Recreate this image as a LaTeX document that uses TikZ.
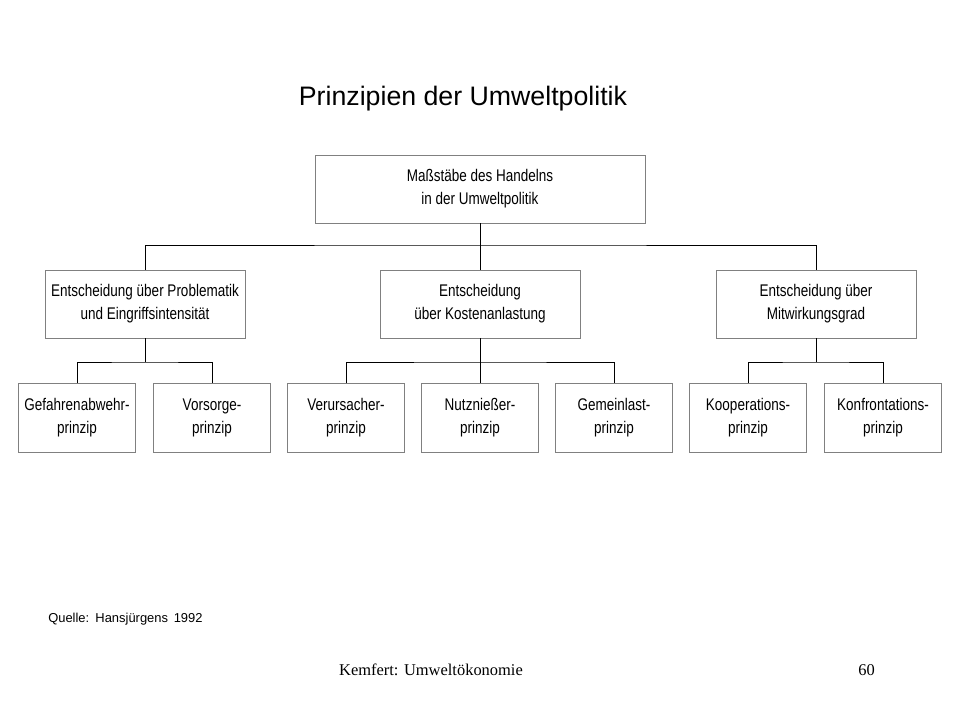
\documentclass[tikz,border=0pt]{standalone}
\usepackage{fontspec}
\setmainfont{Liberation Serif}
\setsansfont{Liberation Sans}
\newfontfamily\boxfont[FakeStretch=0.8]{Liberation Sans}
\usepackage{tikz}

\begin{document}
\begin{tikzpicture}[x=0.025cm, y=-0.025cm,
    box/.style={draw=gray, fill=white, align=center, inner sep=0pt,
        font=\boxfont\fontsize{12}{16.4}\selectfont},
    topbox/.style={box, minimum width=330*\px, minimum height=68*\px},
    midbox/.style={box, minimum width=200*\px, minimum height=68*\px},
    leafbox/.style={box, minimum width=117*\px, minimum height=69*\px},
    link/.style={black, line width=0.7pt}]
    \def\px{0.025cm}
    \useasboundingbox (0,0) rectangle (960,720);
    \node[anchor=base, font=\sffamily\fontsize{19}{23}\selectfont] (title) at (463,106) {Prinzipien der Umweltpolitik};
    \node[topbox] (mass) at (480,189) {Maßstäbe des Handelns\\in der Umweltpolitik};
    \node[midbox] (prob) at (145,304) {Entscheidung über Problematik\\und Eingriffsintensität};
    \node[midbox] (kost) at (480,304) {Entscheidung\\über Kostenanlastung};
    \node[midbox] (mitw) at (816,304) {Entscheidung über\\Mitwirkungsgrad};
    \node[leafbox] (gef) at (77,418) {Gefahrenabwehr-\\prinzip};
    \node[leafbox] (vor) at (212,418) {Vorsorge-\\prinzip};
    \node[leafbox] (ver) at (346,418) {Verursacher-\\prinzip};
    \node[leafbox] (nutz) at (480,418) {Nutznießer-\\prinzip};
    \node[leafbox] (gem) at (614,418) {Gemeinlast-\\prinzip};
    \node[leafbox] (koop) at (748,418) {Kooperations-\\prinzip};
    \node[leafbox] (konf) at (883,418) {Konfrontations-\\prinzip};
    \coordinate (busa) at (480,245);
    \coordinate (busb) at (145,362);
    \coordinate (busc) at (480,362);
    \coordinate (busd) at (816,362);
    \draw[link] (mass) -- (busa);
    \draw[link] (prob) |- (busa) -| (mitw);
    \draw[link] (kost) -- (busa);
    \draw[link] (prob) -- (busb);
    \draw[link] (gef) |- (busb) -| (vor);
    \draw[link] (kost) -- (busc);
    \draw[link] (ver) |- (busc) -| (gem);
    \draw[link] (nutz) -- (busc);
    \draw[link] (mitw) -- (busd);
    \draw[link] (koop) |- (busd) -| (konf);
    \node[anchor=base west, inner sep=0pt, font=\sffamily\fontsize{9.2}{11}\selectfont] (quelle) at (48,622) {Quelle:\hspace{1pt} Hansjürgens\hspace{1.5pt} 1992};
    \node[anchor=base, font=\fontsize{11.7}{14}\selectfont] (fuss) at (431,675) {Kemfert: Umweltökonomie};
    \node[anchor=base west, inner sep=0pt, font=\fontsize{11.7}{14}\selectfont] (seite) at (858,675) {60};
\end{tikzpicture}
\end{document}
